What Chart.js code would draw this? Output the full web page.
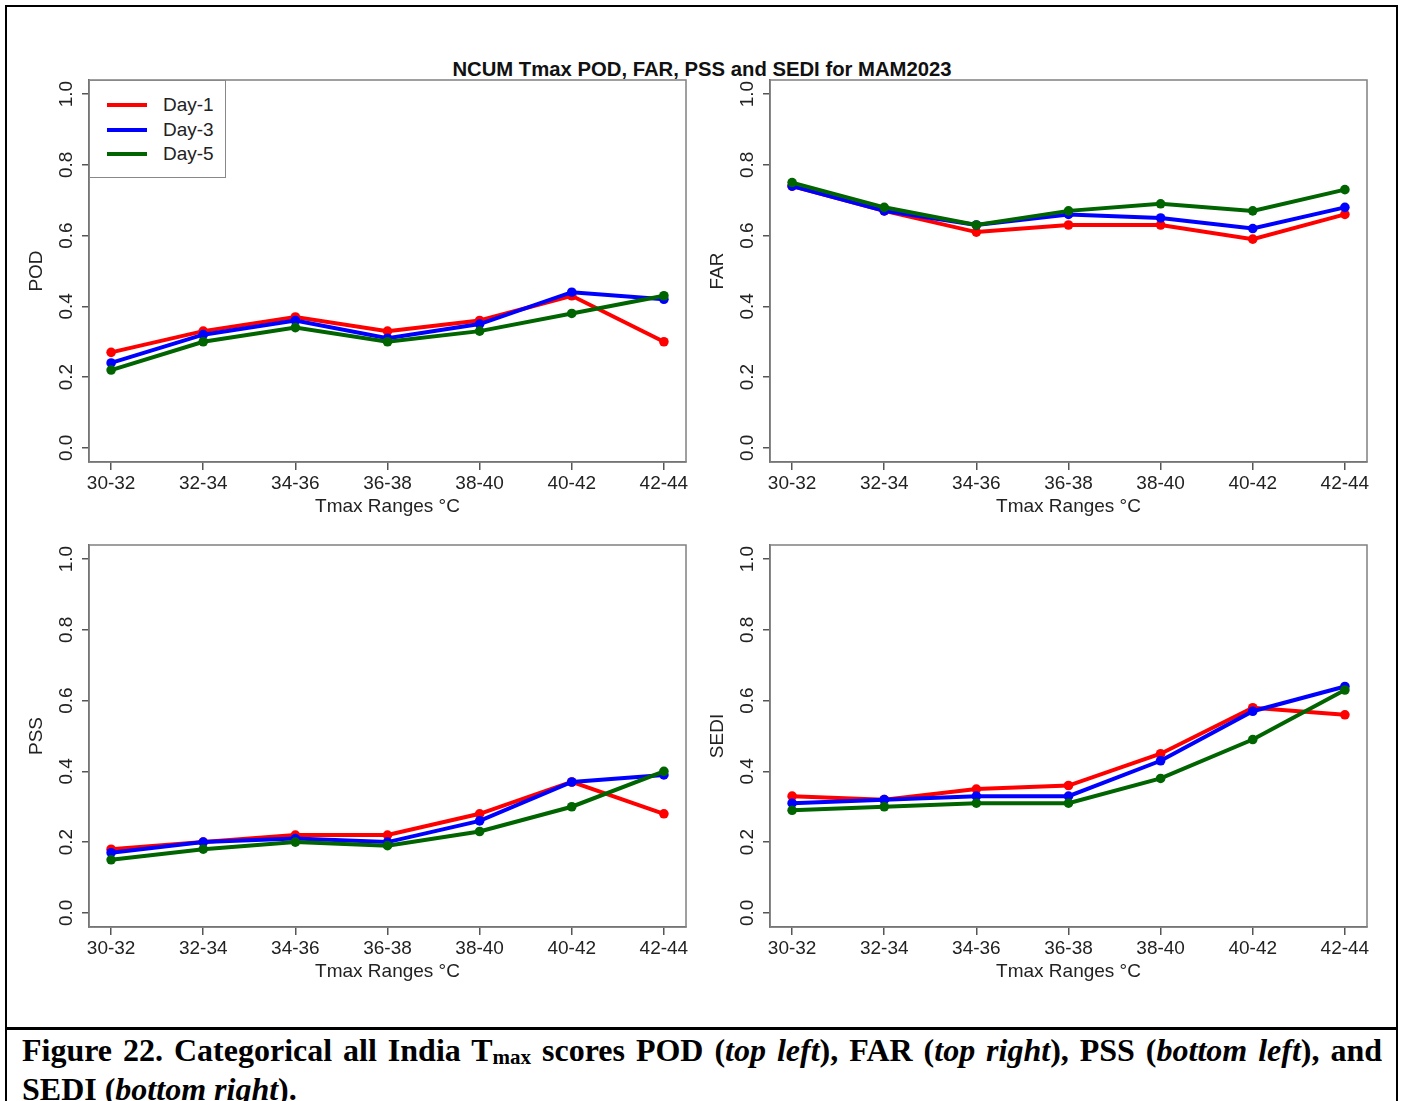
<!DOCTYPE html>
<html>
<head>
<meta charset="utf-8">
<script src="https://cdn.jsdelivr.net/npm/chart.js@4.4.1/dist/chart.umd.min.js"></script>
<style>
  body { margin: 0; width: 1404px; height: 1101px; background: #fff; position: relative; overflow: hidden;
         font-family: "Liberation Sans", Arial, sans-serif; }
  #frame { position: absolute; left: 5px; top: 5px; width: 1389px; height: 1200px; border: 2px solid #000; }
  #sep { position: absolute; left: 5px; top: 1027px; width: 1393px; height: 3px; background: #000; }
  #title { position: absolute; left: 0; top: 58px; width: 1404px; text-align: center; font-weight: bold;
           font-size: 20.3px; color: #111; }
  canvas { position: absolute; }
  #legend { position: absolute; left: 89px; top: 80px; width: 135px; height: 96px; border: 1.5px solid #888;
            background: #fff; font-size: 19px; color: #222; }
  .row { position: absolute; left: 0; height: 24px; width: 135px; }
  .row span.ln { position: absolute; left: 17px; top: 10px; width: 40px; height: 4px; }
  .row span.tx { position: absolute; left: 73px; top: 0; line-height: 24px; }
  #caption { position: absolute; left: 22px; top: 1033px; width: 1360px; font-family: "Liberation Serif", "Times New Roman", serif;
             font-weight: bold; font-size: 32px; line-height: 35px; color: #000; }
  #caption .l1 { text-align: justify; text-align-last: justify; white-space: nowrap; }
  #caption sub { font-size: 21px; vertical-align: baseline; position: relative; top: 3px; }
</style>
</head>
<body>
<div id="frame"></div>
<div id="sep"></div>
<div id="title">NCUM Tmax POD, FAR, PSS and SEDI for MAM2023</div>

<canvas id="pod" width="691" height="458"></canvas>
<canvas id="far" width="691" height="458"></canvas>
<canvas id="pss" width="691" height="458"></canvas>
<canvas id="sedi" width="691" height="458"></canvas>

<div id="legend"></div>

<div id="caption">
  <div class="l1">Figure 22. Categorical all India T<sub>max</sub> scores POD (<i>top left</i>), FAR (<i>top right</i>), PSS (<i>bottom left</i>), and</div>
  <div>SEDI (<i>bottom right</i>).</div>
</div>

<script>
// categories and ticks
var ranges = ["30-32", "32-34", "34-36", "36-38", "38-40", "40-42", "42-44"];
var yTicks = [0, 0.2, 0.4, 0.6, 0.8, 1.0];
var seriesNames = ["Day-1", "Day-3", "Day-5"];
var seriesColors = ["#ff0000", "#0000ff", "#006400"];

// POD
var podDay1 = [0.27, 0.33, 0.37, 0.33, 0.36, 0.43, 0.30];
var podDay3 = [0.24, 0.32, 0.36, 0.31, 0.35, 0.44, 0.42];
var podDay5 = [0.22, 0.30, 0.34, 0.30, 0.33, 0.38, 0.43];
// FAR
var farDay1 = [0.74, 0.67, 0.61, 0.63, 0.63, 0.59, 0.66];
var farDay3 = [0.74, 0.67, 0.63, 0.66, 0.65, 0.62, 0.68];
var farDay5 = [0.75, 0.68, 0.63, 0.67, 0.69, 0.67, 0.73];
// PSS
var pssDay1 = [0.18, 0.20, 0.22, 0.22, 0.28, 0.37, 0.28];
var pssDay3 = [0.17, 0.20, 0.21, 0.20, 0.26, 0.37, 0.39];
var pssDay5 = [0.15, 0.18, 0.20, 0.19, 0.23, 0.30, 0.40];
// SEDI
var sediDay1 = [0.33, 0.32, 0.35, 0.36, 0.45, 0.58, 0.56];
var sediDay3 = [0.31, 0.32, 0.33, 0.33, 0.43, 0.57, 0.64];
var sediDay5 = [0.29, 0.30, 0.31, 0.31, 0.38, 0.49, 0.63];

// box round the plot area, like R's box()
var boxPlugin = {
  id: "box",
  afterDraw: function (chart) {
    var a = chart.chartArea, c = chart.ctx;
    c.save();
    c.strokeStyle = "#808080";
    c.lineWidth = 1.5;
    c.strokeRect(a.left, a.top, a.right - a.left, a.bottom - a.top);
    c.restore();
  }
};

function noPad(s) {
  s.paddingLeft = 0; s.paddingRight = 0; s.paddingTop = 0; s.paddingBottom = 0;
}

function makePanel(id, left, top, yTitle, lists) {
  var cv = document.getElementById(id);
  cv.style.left = left + "px";
  cv.style.top = top + "px";
  var datasets = lists.map(function (vals, k) {
    return {
      label: seriesNames[k],
      data: vals.map(function (v, i) { return { x: i, y: v }; }),
      borderColor: seriesColors[k],
      backgroundColor: seriesColors[k],
      pointBackgroundColor: seriesColors[k],
      borderWidth: 4,
      pointRadius: 4.8,
      pointBorderWidth: 0,
      tension: 0,
      order: 2 - k
    };
  });
  new Chart(cv.getContext("2d"), {
    type: "line",
    data: { datasets: datasets },
    plugins: [boxPlugin],
    options: {
      responsive: false,
      animation: false,
      devicePixelRatio: 1,
      // canvas sits 64px left of and 20px above the plot area
      layout: { padding: { left: 0, top: 20, right: 30, bottom: 0 } },
      plugins: { legend: { display: false }, tooltip: { enabled: false } },
      scales: {
        x: {
          type: "linear",
          min: -0.24,
          max: 6.24,
          afterBuildTicks: function (s) { s.ticks = ranges.map(function (r, i) { return { value: i }; }); },
          afterFit: function (s) { s.height = 56; noPad(s); },
          ticks: {
            callback: function (v) { return ranges[v]; },
            autoSkip: false, maxRotation: 0, minRotation: 0, padding: 2,
            color: "#222", font: { family: "Liberation Sans", size: 19 }
          },
          grid: { drawOnChartArea: false, drawTicks: true, tickLength: 8, tickColor: "#555", lineWidth: 1.5 },
          border: { display: true, color: "#555", width: 1.5 },
          title: { display: true, text: "Tmax Ranges \u00B0C", padding: 0, color: "#222",
                   font: { family: "Liberation Sans", size: 19 } }
        },
        y: {
          min: -0.04,
          max: 1.04,
          afterBuildTicks: function (s) { s.ticks = yTicks.map(function (v) { return { value: v }; }); },
          afterFit: function (s) { s.width = 64; noPad(s); },
          ticks: {
            callback: function (v) { return v.toFixed(1); },
            minRotation: 90, maxRotation: 90, crossAlign: "center", padding: 2,
            color: "#222", font: { family: "Liberation Sans", size: 19 }
          },
          grid: { drawOnChartArea: false, drawTicks: true, tickLength: 7, tickColor: "#555", lineWidth: 1.5 },
          border: { display: true, color: "#555", width: 1.5 },
          title: { display: true, text: yTitle, padding: 0, color: "#222",
                   font: { family: "Liberation Sans", size: 19 } }
        }
      }
    }
  });
}

makePanel("pod", 25, 60, "POD", [podDay1, podDay3, podDay5]);
makePanel("far", 706, 60, "FAR", [farDay1, farDay3, farDay5]);
makePanel("pss", 25, 525, "PSS", [pssDay1, pssDay3, pssDay5]);
makePanel("sedi", 706, 525, "SEDI", [sediDay1, sediDay3, sediDay5]);

// legend in the top-left panel
var lg = document.getElementById("legend");
seriesNames.forEach(function (n, k) {
  var row = document.createElement("div");
  row.className = "row";
  row.style.top = (12 + k * 24.5) + "px";
  row.innerHTML = '<span class="ln" style="background:' + seriesColors[k] + '"></span><span class="tx">' + n + "</span>";
  lg.appendChild(row);
});
</script>
</body>
</html>
